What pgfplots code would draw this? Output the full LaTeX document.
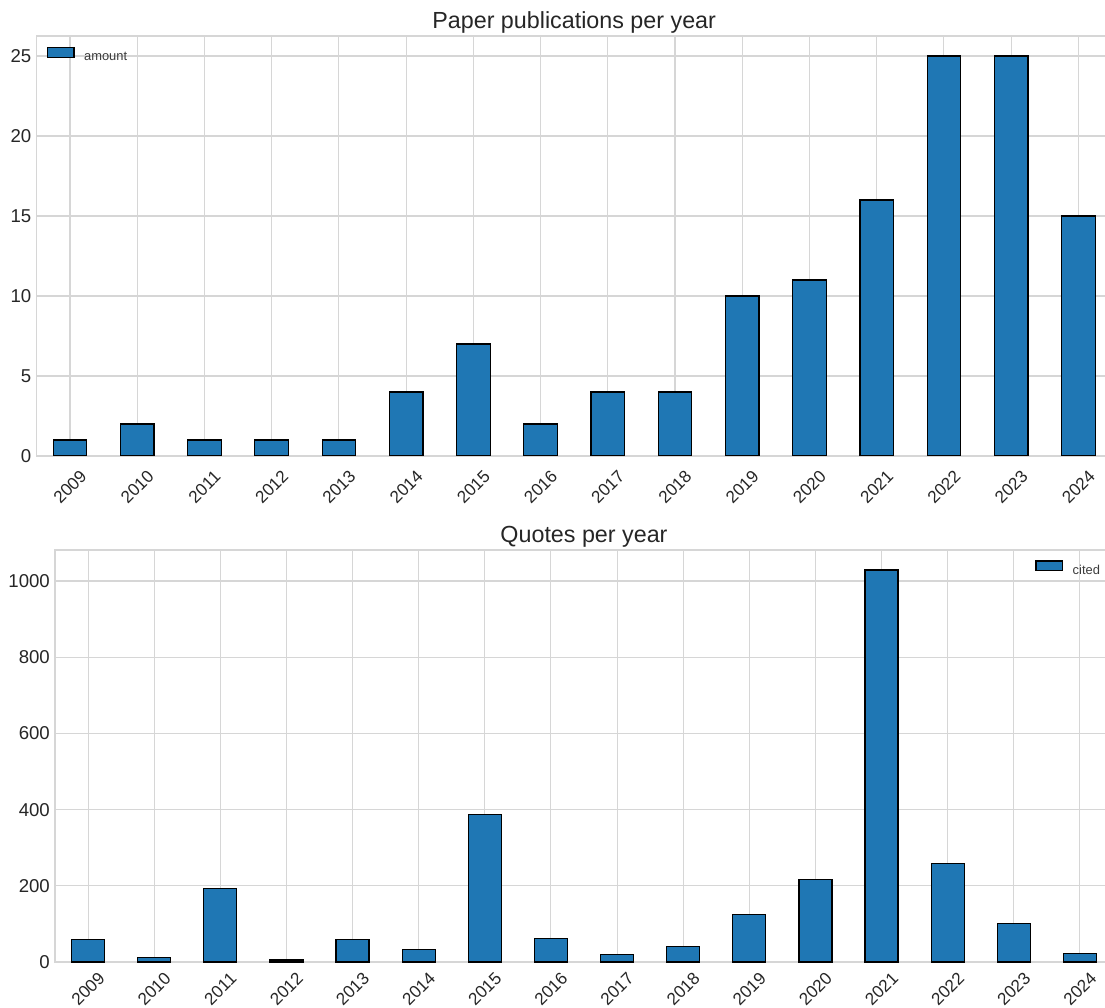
\documentclass[border=0pt]{standalone}
\usepackage{pgfplots}
\pgfplotsset{compat=1.18}
\usepackage{fontspec}
\setmainfont{Liberation Sans}

\definecolor{barblue}{HTML}{1F77B4}
\definecolor{gridgray}{HTML}{D6D6D6}
\definecolor{txt}{HTML}{262626}

\pgfplotsset{
  yearbars/.style={
    scale only axis,
    ybar, bar width=0.5,
    xmin=-0.5, xmax=15.5, ymin=0,
    xtick={0,1,2,3,4,5,6,7,8,9,10,11,12,13,14,15},
    xticklabels={2009,2010,2011,2012,2013,2014,2015,2016,2017,2018,2019,2020,2021,2022,2023,2024},
    grid=major,
    major grid style={draw=gridgray, line width=1.1pt},
    axis line style={draw=gridgray, line width=1.1pt},
    major tick length=0pt,
    tick style={draw=none},
    /pgf/number format/assume math mode=true,
    /pgf/number format/1000 sep={},
    scaled y ticks=false,
    ticklabel style={font=\fontsize{18.6}{20}\selectfont, text=txt},
    xticklabel style={yshift=-31pt, rotate=45, anchor=center, inner sep=0pt,
                      font=\fontsize{17.2}{19}\selectfont},
    yticklabel style={anchor=east, inner sep=0pt, xshift=-5pt},
    title style={font=\fontsize{23.3}{26}\selectfont, text=txt,
                 at={(0.5,1)}, anchor=base, yshift=1.5pt},
    legend image code/.code={
      \draw[#1, line width=1.2pt] (0pt,-0.5pt) rectangle (26.7pt,9.1pt);
    },
    legend style={draw=none, fill=none, inner sep=0pt, outer sep=0pt,
                  font=\fontsize{12.9}{14}\selectfont, text=txt!90,
                  nodes={inner sep=0pt},
                  /tikz/every odd column/.append style={column sep=9.5pt}},
  },
  yearbar/.style={fill=barblue, draw=black, line width=1.2pt},
}

\begin{document}
\begin{tikzpicture}
\path[use as bounding box] (0pt,0pt) rectangle (1105pt,1007pt);

\begin{axis}[
  yearbars,
  at={(36.4pt,971pt)}, anchor=north west,
  width=1075.6pt, height=420pt,
  ymax=26.25,
  ytick={0,5,10,15,20,25},
  title={Paper publications per year},
  legend style={at={(rel axis cs:0,1)}, anchor=west, xshift=10.3pt, yshift=-18.5pt},
]
\addplot[yearbar] coordinates {
  (0,1) (1,2) (2,1) (3,1) (4,1) (5,4) (6,7) (7,2)
  (8,4) (9,4) (10,10) (11,11) (12,16) (13,25) (14,25) (15,15)
};
\addlegendentry{amount}
\end{axis}

\begin{axis}[
  yearbars,
  at={(55pt,457pt)}, anchor=north west,
  width=1058pt, height=412pt,
  ymax=1081.5,
  ytick={0,200,400,600,800,1000},
  xticklabel shift=-4pt,
  title={Quotes per year},
  legend style={at={(rel axis cs:1,1)}, anchor=east, xshift=-13pt, yshift=-18pt},
]
\addplot[yearbar] coordinates {
  (0,60) (1,12) (2,193) (3,5) (4,60) (5,32) (6,387) (7,62)
  (8,19) (9,41) (10,124) (11,217) (12,1029) (13,259) (14,102) (15,22)
};
\addlegendentry{cited}
\end{axis}
\end{tikzpicture}
\end{document}
